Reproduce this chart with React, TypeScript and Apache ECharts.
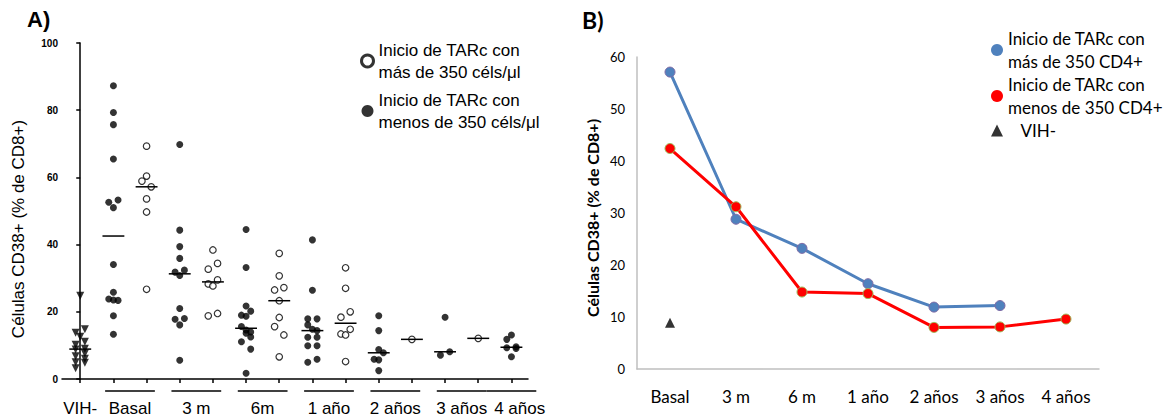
import React, { useEffect, useRef } from "react";
import * as echarts from "echarts";

// ---------- Panel A data (individual values, [value, column]) ----------
const groupLabelsA = ["VIH-", "Basal", "3 m", "6m", "1 año", "2 años", "3 años", "4 años"];

const vihNegA: [number, number][] = [
  [24.8, 0], [14.8, 1], [13.8, -1], [12.6, 0], [11.1, 1], [10.2, -1], [9.0, 1],
  [8.8, -1], [7.6, 1], [6.8, -1], [6.0, 1], [5.0, -1], [4.8, 1], [3.2, -1],
];

const closedBasal: [number, number][] = [
  [87.3, 0], [79.3, 0], [75.7, 0], [65.5, 0], [53.3, 1], [52.6, -1], [51.0, 0],
  [34.1, 0], [25.8, 0], [23.8, -1], [23.5, 0], [23.4, 1], [18.8, 0], [13.3, 0],
];
const closed3m: [number, number][] = [
  [69.8, 0], [44.3, 0], [39.4, 0], [35.9, 0], [32.4, 1], [31.8, -1], [30.8, 0],
  [21.0, 0], [18.0, 1], [17.8, -1], [16.1, 0], [5.6, 0],
];
const closed6m: [number, number][] = [
  [44.5, 0], [33.2, 0], [21.7, 0], [20.2, 1], [19.0, -1], [18.7, 0], [15.6, -1],
  [14.6, 0], [14.0, 1], [13.6, 0], [12.5, 1], [11.1, -1], [8.9, 1], [1.7, 0],
];
const closed1a: [number, number][] = [
  [41.4, 0], [26.4, 0], [17.9, -1], [17.9, 1], [16.1, -1], [14.8, 0], [14.4, 1],
  [12.4, -1], [12.4, 1], [9.9, -1], [9.9, 1], [5.9, 1], [5.0, -1],
];
const closed2a: [number, number][] = [
  [18.8, 0], [14.4, 0], [8.8, 0], [7.8, 1], [5.9, -1], [5.7, 0], [2.5, 0],
];
const closed3a: [number, number][] = [[18.4, 0], [8.1, 1], [7.1, -1]];
const closed4a: [number, number][] = [
  [13.1, 0], [11.8, -1], [9.6, 1], [9.3, -1], [9.1, 1], [6.6, 0],
];

const openBasal: [number, number][] = [
  [69.3, 0], [60.4, 0], [58.9, -1], [57.2, 1], [53.6, 0], [49.7, 0], [26.7, 0],
];
const open3m: [number, number][] = [
  [38.4, 0], [34.4, 1], [32.7, -1], [29.5, 1], [28.3, -1], [27.7, 0], [19.5, 1], [18.8, -1],
];
const open6m: [number, number][] = [
  [37.4, 0], [30.7, 0], [27.2, 1], [26.5, -1], [23.3, 0], [18.3, 0], [15.6, -1], [13.1, 1], [6.6, 0],
];
const open1a: [number, number][] = [
  [33.1, 0], [27.0, 0], [20.0, 1], [18.4, -1], [14.8, 1], [13.4, -1], [13.1, 0], [5.2, 0],
];
const open2a: [number, number][] = [[11.8, 0]];
const open3a: [number, number][] = [[12.1, 0]];

const closedA = [closedBasal, closed3m, closed6m, closed1a, closed2a, closed3a, closed4a];
const openA = [openBasal, open3m, open6m, open1a, open2a, open3a];

// ---------- Panel B data ----------
const timepointsB = ["Basal", "3 m", "6 m", "1 año", "2 años", "3 años", "4 años"];
const masB: (number | null)[] = [57.1, 28.8, 23.2, 16.4, 11.9, 12.2, null];
const menosB: (number | null)[] = [42.4, 31.2, 14.8, 14.5, 8.0, 8.1, 9.6];
const vihB: (number | null)[] = [8.9, null, null, null, null, null, null];

const nameOpenA = "Inicio de TARc con\nmás de 350 céls/μl";
const nameClosedA = "Inicio de TARc con\nmenos de 350 céls/μl";
const nameMasB = "Inicio de TARc con\nmás de 350 CD4+";
const nameMenosB = "Inicio de TARc con\nmenos de 350 CD4+";

const JITTER = 0.14;
const FONT_A = "'Liberation Sans', Arial, sans-serif";
const FONT_B = "Lato, 'Open Sans', sans-serif";

function median(vals: number[]): number {
  const s = [...vals].sort((a, b) => a - b);
  const n = s.length;
  return n % 2 ? s[(n - 1) / 2] : (s[n / 2 - 1] + s[n / 2]) / 2;
}

export default function App() {
  const ref = useRef<HTMLDivElement>(null);

  useEffect(() => {
    if (!ref.current) return;
    const chart = echarts.init(ref.current, undefined, { renderer: "svg" });

    // indices: VIH- at 0; time t: closed at 1+2t, open at 2+2t
    const toPts = (arr: [number, number][], idx: number) =>
      arr.map(([v, c]) => [idx + c * JITTER, v]);

    const vihData = toPts(vihNegA, 0);
    const closedData: number[][] = [];
    const openData: number[][] = [];
    const medians: number[][] = [[0, median(vihNegA.map((d) => d[0]))]];
    const tickIdx: number[] = [0];
    const labelCenters: number[] = [0];
    const underlines: number[][] = [];

    closedA.forEach((arr, t) => {
      const ci = 1 + 2 * t;
      closedData.push(...toPts(arr, ci));
      medians.push([ci, median(arr.map((d) => d[0]))]);
      tickIdx.push(ci);
      let center = ci;
      const o = openA[t];
      if (o) {
        const oi = 2 + 2 * t;
        openData.push(...toPts(o, oi));
        medians.push([oi, median(o.map((d) => d[0]))]);
        tickIdx.push(oi);
        center = (ci + oi) / 2;
      }
      labelCenters.push(o ? center : center + 0.25);
      underlines.push([center - 0.75, 0, center + 0.75]);
    });

    const labelFor = (v: number) => {
      const i = labelCenters.findIndex((c) => Math.abs(c - v) < 1e-6);
      return i >= 0 ? groupLabelsA[i] : "";
    };

    const option: any = {
      animation: false,
      backgroundColor: "#ffffff",
      grid: [
        { left: 62, top: 43, width: 466, height: 336 },
        { left: 637, top: 57, width: 462, height: 312 },
      ],
      graphic: [
        {
          type: "text",
          left: 27,
          top: 8,
          style: { text: "A)", fontFamily: FONT_A, fontWeight: "bold", fontSize: 22, fill: "#000" },
        },
        {
          type: "text",
          left: 582,
          top: 8,
          style: { text: "B)", fontFamily: FONT_B, fontWeight: "bold", fontSize: 23, fill: "#000" },
        },
      ],
      legend: [
        {
          orient: "vertical",
          left: 360,
          top: 39,
          padding: 0,
          itemWidth: 12,
          itemHeight: 12,
          itemGap: 6,
          selectedMode: false,
          textStyle: { fontFamily: FONT_A, fontSize: 17, lineHeight: 22, color: "#000" },
          data: [
            {
              name: nameOpenA,
              icon: "circle",
              itemStyle: { color: "#fff", borderColor: "#000", borderWidth: 3 },
            },
            { name: nameClosedA, icon: "circle", itemStyle: { color: "#000" } },
          ],
        },
        {
          orient: "vertical",
          left: 991,
          top: 27,
          padding: 0,
          itemWidth: 12,
          itemHeight: 12,
          itemGap: 0,
          selectedMode: false,
          textStyle: { fontFamily: FONT_B, fontSize: 17, lineHeight: 23, color: "#000" },
          formatter: (n: string) => (n === "VIH-" ? "\u00a0\u00a0\u00a0VIH-" : n),
          data: [
            { name: nameMasB, icon: "circle", itemStyle: { color: "#4F81BD", borderWidth: 0 } },
            { name: nameMenosB, icon: "circle", itemStyle: { color: "#FF0000", borderWidth: 0 } },
            { name: "VIH-", icon: "triangle", itemStyle: { color: "#000" } },
          ],
        },
      ],
      xAxis: [
        {
          gridIndex: 0,
          type: "value",
          min: -0.55,
          max: 13.5,
          axisLine: { show: true, lineStyle: { color: "#000", width: 1.5 } },
          axisTick: { show: true, customValues: tickIdx, length: 4, lineStyle: { color: "#000", width: 1.5 } },
          axisLabel: {
            show: true,
            customValues: labelCenters,
            formatter: (v: number) => labelFor(v),
            hideOverlap: false,
            showMinLabel: true,
            showMaxLabel: true,
            margin: 21,
            fontFamily: FONT_A,
            fontSize: 17,
            color: "#000",
          },
          splitLine: { show: false },
        },
        {
          gridIndex: 1,
          type: "category",
          data: timepointsB,
          boundaryGap: true,
          axisLine: { show: true, lineStyle: { color: "#BFBFBF", width: 1.5 } },
          axisTick: { show: false },
          axisLabel: { margin: 19, fontFamily: FONT_B, fontSize: 17, color: "#000" },
          splitLine: { show: false },
        },
      ],
      yAxis: [
        {
          gridIndex: 0,
          type: "value",
          min: 0,
          max: 100,
          interval: 20,
          axisLine: { show: true, lineStyle: { color: "#000", width: 1.5 } },
          axisTick: { show: true, length: 4, lineStyle: { color: "#000", width: 1.5 } },
          axisLabel: { fontFamily: FONT_A, fontWeight: "bold", fontSize: 10, color: "#000", margin: 4 },
          splitLine: { show: false },
          name: "Células CD38+ (% de CD8+)",
          nameLocation: "middle",
          nameGap: 35,
          nameTextStyle: { fontFamily: FONT_A, fontSize: 17, color: "#000", padding: [0, 36, 0, 0] },
        },
        {
          gridIndex: 1,
          type: "value",
          min: 0,
          max: 60,
          interval: 10,
          axisLine: { show: true, lineStyle: { color: "#BFBFBF", width: 1.5 } },
          axisTick: { show: false },
          axisLabel: { fontFamily: FONT_B, fontSize: 13, color: "#000", margin: 12 },
          splitLine: { show: false },
          name: "Células CD38+ (% de CD8+)",
          nameLocation: "middle",
          nameGap: 37,
          nameTextStyle: { fontFamily: FONT_B, fontWeight: "bold", fontSize: 16, color: "#000", padding: [0, 10, 0, 0] },
        },
      ],
      series: [
        {
          name: "VIH- (individual)",
          type: "scatter",
          xAxisIndex: 0,
          yAxisIndex: 0,
          data: vihData,
          symbol: "triangle",
          symbolRotate: 180,
          symbolSize: 8,
          itemStyle: { color: "#000" },
        },
        {
          name: nameClosedA,
          type: "scatter",
          xAxisIndex: 0,
          yAxisIndex: 0,
          data: closedData,
          symbol: "circle",
          symbolSize: 7,
          itemStyle: { color: "#000" },
        },
        {
          name: nameOpenA,
          type: "scatter",
          xAxisIndex: 0,
          yAxisIndex: 0,
          data: openData,
          symbol: "circle",
          symbolSize: 6.5,
          itemStyle: { color: "#fff", borderColor: "#000", borderWidth: 1.2 },
        },
        {
          name: "medianas",
          type: "custom",
          xAxisIndex: 0,
          yAxisIndex: 0,
          clip: false,
          z: 5,
          data: medians,
          renderItem: (_p: any, api: any) => {
            const a = api.coord([api.value(0) - 0.33, api.value(1)]);
            const b = api.coord([api.value(0) + 0.33, api.value(1)]);
            return {
              type: "line",
              shape: { x1: a[0], y1: a[1], x2: b[0], y2: b[1] },
              style: { stroke: "#000", lineWidth: 1.5 },
            };
          },
        },
        {
          name: "grupos",
          type: "custom",
          xAxisIndex: 0,
          yAxisIndex: 0,
          clip: false,
          z: 5,
          data: underlines,
          renderItem: (_p: any, api: any) => {
            const a = api.coord([api.value(0), 0]);
            const b = api.coord([api.value(2), 0]);
            return {
              type: "line",
              shape: { x1: a[0], y1: a[1] + 12, x2: b[0], y2: b[1] + 12 },
              style: { stroke: "#000", lineWidth: 1.5 },
            };
          },
        },
        {
          name: nameMasB,
          type: "line",
          xAxisIndex: 1,
          yAxisIndex: 1,
          data: masB,
          symbol: "circle",
          symbolSize: 10,
          connectNulls: false,
          lineStyle: { color: "#4F81BD", width: 3 },
          itemStyle: { color: "#4F81BD", borderColor: "#7F6BA5", borderWidth: 1 },
        },
        {
          name: nameMenosB,
          type: "line",
          xAxisIndex: 1,
          yAxisIndex: 1,
          data: menosB,
          symbol: "circle",
          symbolSize: 10,
          connectNulls: false,
          lineStyle: { color: "#FF0000", width: 3 },
          itemStyle: { color: "#FF0000", borderColor: "#9BBB59", borderWidth: 1 },
        },
        {
          name: "VIH-",
          type: "scatter",
          xAxisIndex: 1,
          yAxisIndex: 1,
          data: vihB,
          symbol: "triangle",
          symbolSize: 10,
          itemStyle: { color: "#000" },
        },
      ],
    };

    chart.setOption(option);
    return () => chart.dispose();
  }, []);

  return (
    <div
      ref={ref}
      style={{ position: "absolute", left: 0, top: 0, width: 1171, height: 417, background: "#fff" }}
    />
  );
}
